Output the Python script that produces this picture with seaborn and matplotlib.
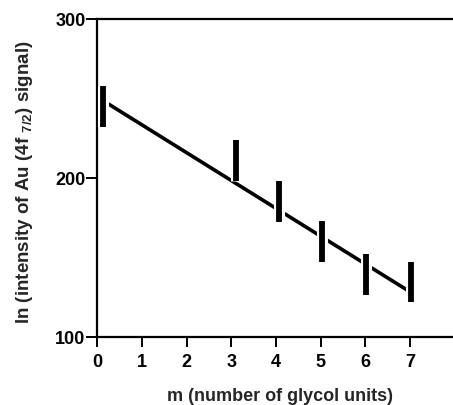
import matplotlib
matplotlib.use("Agg")
import matplotlib.pyplot as plt
import matplotlib.patheffects as pe
import numpy as np
import pandas as pd
import seaborn as sns

# Measured XPS intensities (error-bar ranges) versus number of glycol units
m_pos = [0.13, 3.1, 4.07, 5.02, 6.01, 7.01]
y_low = [232, 198, 172, 147, 126, 122]
y_high = [258, 224, 198, 173, 152, 147]

# Least-squares fit line end points
fit_m = [0.19, 6.94]
fit_y = [247.5, 129.3]

x_ticks = [0, 1, 2, 3, 4, 5, 6, 7]
y_ticks = [100, 200, 300]

sns.set_style("ticks")
plt.rcParams["font.family"] = ["Liberation Sans", "DejaVu Sans"]
plt.rcParams["font.weight"] = "bold"
plt.rcParams["mathtext.fontset"] = "custom"
plt.rcParams["mathtext.rm"] = "Liberation Sans:bold"
plt.rcParams["mathtext.bf"] = "Liberation Sans:bold"
plt.rcParams["mathtext.it"] = "Liberation Sans:bold"

fig = plt.figure(figsize=(4.53, 4.06), dpi=100)
ax = fig.add_axes([0.2148, 0.168, 0.7852, 0.783])

fit_df = pd.DataFrame({"m": fit_m, "y": fit_y})
sns.lineplot(data=fit_df, x="m", y="y", ax=ax, color="black", linewidth=2.6, zorder=2)

lo = np.array(y_low, dtype=float)
hi = np.array(y_high, dtype=float)
mid = (lo + hi) / 2
half = (hi - lo) / 2
eb = ax.errorbar(m_pos, mid, yerr=half, fmt="none", ecolor="black",
                 elinewidth=4.2, capsize=0, zorder=3)
for col in eb.lines[2]:
    col.set_path_effects([pe.Stroke(linewidth=8, foreground="white"), pe.Normal()])

ax.set_xlim(0, 7.96)
ax.set_ylim(100, 300)
ax.set_xticks(x_ticks)
ax.set_yticks(y_ticks)
ax.tick_params(axis="both", direction="out", width=1.4, colors="black",
               labelsize=13)
ax.tick_params(axis="y", length=8, pad=0.5)
ax.tick_params(axis="x", length=7, pad=5)
for lab in ax.get_xticklabels() + ax.get_yticklabels():
    lab.set_fontweight("bold")

for side in ["left", "bottom", "top"]:
    ax.spines[side].set_visible(True)
    ax.spines[side].set_linewidth(1.6)
    ax.spines[side].set_color("black")
ax.spines["right"].set_visible(False)

ax.set_xlabel("m (number of glycol units)", fontsize=13, fontweight="bold")
ax.xaxis.set_label_coords(0.515, -0.158)
ax.set_ylabel(r"ln (intensity of Au (4f $_{7/2}$) signal)", fontsize=13.5,
              fontweight="bold")
ax.yaxis.set_label_coords(-0.175, 0.49)

fig.savefig("out.png", dpi=100, facecolor="white")
